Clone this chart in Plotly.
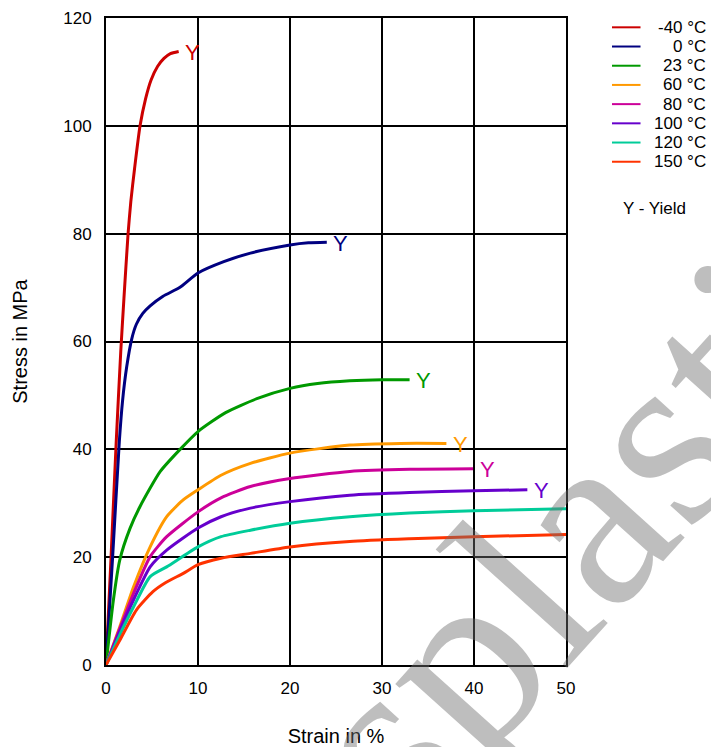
import plotly.graph_objects as go

# ---- data ----
labels = ["-40 °C", "0 °C", "23 °C", "60 °C", "80 °C", "100 °C", "120 °C", "150 °C"]
colors = ["#cc0000", "#000080", "#009900", "#ff9900", "#cc0099", "#6600cc", "#00cc99", "#ff3300"]

strain_m40 = [0, 0.55, 1.1, 1.6, 1.95, 2.4, 2.7, 3.1, 3.7, 4.3, 4.9, 5.6, 6.3, 7.0, 7.9]
stress_m40 = [0, 20, 41, 58, 68, 80, 86, 92, 100, 105, 108.5, 111, 112.5, 113.4, 113.8]

strain_0 = [0, 0.72, 1.45, 1.8, 2.25, 2.8, 3.3, 4.0, 4.8, 6.2, 8.0, 10.0, 12.8, 15.7, 20.0, 22.0, 24.0]
stress_0 = [0, 20, 41.5, 49, 55.3, 60.5, 63.2, 65.2, 66.6, 68.4, 70.0, 72.7, 74.8, 76.4, 77.9, 78.3, 78.4]

strain_23 = [0, 0.8, 1.5, 2.6, 3.7, 5.9, 8.0, 10.0, 13.0, 16.4, 20.0, 23.0, 26.5, 30.0, 33.0]
stress_23 = [0, 12, 19.5, 25.3, 29.4, 35.9, 39.9, 43.3, 46.8, 49.4, 51.3, 52.2, 52.7, 52.9, 52.9]

strain_60 = [0, 1.5, 3.0, 4.8, 6.6, 8.3, 10.0, 12.5, 15.7, 20.0, 26.5, 32.0, 37.0]
stress_60 = [0, 7.1, 14.5, 21.9, 27.5, 30.5, 32.5, 35.2, 37.4, 39.3, 40.8, 41.1, 41.1]

strain_80 = [0, 1.5, 3.0, 4.8, 6.6, 10.0, 12.5, 15.7, 20.0, 26.5, 33.0, 39.9]
stress_80 = [0, 6.8, 13.3, 20.1, 23.8, 28.4, 31.0, 33.1, 34.6, 35.9, 36.3, 36.4]

strain_100 = [0, 1.5, 3.0, 4.8, 6.6, 10.0, 12.5, 15.7, 20.0, 26.5, 33.0, 40.0, 45.8]
stress_100 = [0, 6.3, 12.1, 18.2, 21.3, 25.4, 27.5, 29.1, 30.3, 31.5, 32.0, 32.3, 32.5]

strain_120 = [0, 1.5, 3.0, 4.8, 6.6, 10.0, 12.5, 15.7, 20.0, 26.5, 33.0, 40.0, 50.0]
stress_120 = [0, 5.6, 10.8, 16.4, 18.2, 21.9, 23.8, 25.0, 26.3, 27.5, 28.2, 28.6, 29.0]

strain_150 = [0, 1.5, 3.3, 5.1, 6.5, 8.4, 10.0, 12.5, 15.7, 20.0, 26.5, 33.0, 40.0, 50.0]
stress_150 = [0, 4.6, 10.2, 13.6, 15.3, 17.0, 18.6, 19.8, 20.7, 21.9, 22.9, 23.4, 23.8, 24.2]

strains = [strain_m40, strain_0, strain_23, strain_60, strain_80, strain_100, strain_120, strain_150]
stresses = [stress_m40, stress_0, stress_23, stress_60, stress_80, stress_100, stress_120, stress_150]
has_yield = [True, True, True, True, True, True, False, False]

x_ticks = [0, 10, 20, 30, 40, 50]
y_ticks = [0, 20, 40, 60, 80, 100, 120]

FONT = "Arial, Liberation Sans, sans-serif"

fig = go.Figure()
annotations = []
shapes = []

# watermark (drawn first, behind everything else in the annotation layer)
annotations.append(dict(x=0.661, y=-0.076, xref="paper", yref="paper", text="campusplastics",
                        showarrow=False, textangle=-48, xanchor="center", yanchor="middle",
                        font=dict(family="Liberation Serif, Times New Roman, serif", size=255,
                                  color="rgba(110,110,110,0.45)")))

for lab, col, xs, ys, yld in zip(labels, colors, strains, stresses, has_yield):
    fig.add_trace(go.Scatter(x=xs, y=ys, mode="lines", name=lab,
                             line=dict(color=col, width=3, shape="spline", smoothing=0.6),
                             showlegend=False))
    if yld:
        annotations.append(dict(x=xs[-1], y=ys[-1], xref="x", yref="y", text="Y",
                                showarrow=False, xanchor="center", yanchor="middle",
                                xshift=14, yshift=-1,
                                font=dict(family=FONT, size=22, color=col)))

# manual legend (right aligned labels, as in the reference)
row0 = 0.9856
step = 0.02968
for i, (lab, col) in enumerate(zip(labels, colors)):
    yy = row0 - i * step
    shapes.append(dict(type="line", xref="paper", yref="paper", x0=1.10, x1=1.162,
                       y0=yy, y1=yy, line=dict(color=col, width=2)))
    annotations.append(dict(x=1.309, y=yy, xref="paper", yref="paper", text=lab,
                            showarrow=False, xanchor="right", yanchor="middle",
                            font=dict(family=FONT, size=17, color="black")))
annotations.append(dict(x=1.193, y=0.706, xref="paper", yref="paper", text="Y - Yield",
                        showarrow=False, xanchor="center", yanchor="middle",
                        font=dict(family=FONT, size=17, color="black")))

axis_common = dict(showgrid=True, gridcolor="black", gridwidth=1.5,
                   showline=True, linecolor="black", linewidth=2, mirror=True,
                   zeroline=False, ticks="", automargin=False,
                   tickfont=dict(family=FONT, size=17, color="black"))

fig.update_layout(
    width=711, height=747,
    margin=dict(l=106, r=145, t=18, b=82),
    paper_bgcolor="white", plot_bgcolor="white",
    xaxis=dict(range=[0, 50], tickvals=x_ticks, ticktext=[str(v) for v in x_ticks],
               ticklabelstandoff=7,
               title=dict(text="Strain in %", standoff=32,
                          font=dict(family=FONT, size=20, color="black")),
               **axis_common),
    yaxis=dict(range=[0, 120], tickvals=y_ticks, ticktext=[str(v) for v in y_ticks],
               ticklabelstandoff=9,
               title=dict(text="Stress in MPa", standoff=30,
                          font=dict(family=FONT, size=20, color="black")),
               **axis_common),
    annotations=annotations,
    shapes=shapes,
)

fig.write_html("out.html", config={"displayModeBar": False},
               post_script="document.body.style.margin='0';")
